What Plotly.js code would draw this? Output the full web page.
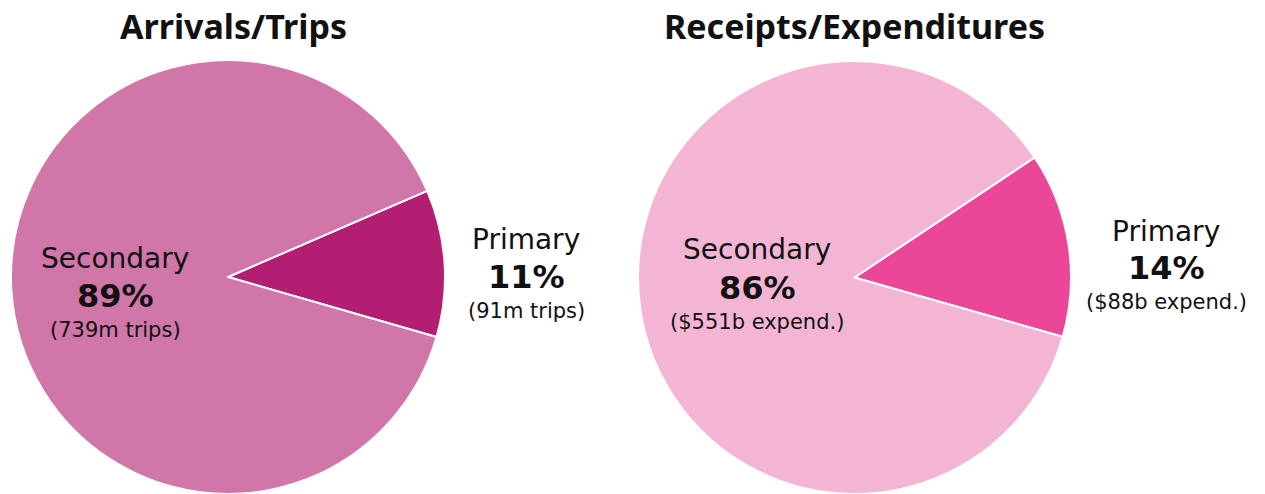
<!DOCTYPE html>
<html>
<head>
<meta charset="utf-8">
<script src="https://cdn.plot.ly/plotly-3.0.1.min.js"></script>
<style>html,body{margin:0;padding:0;background:#fff;}#chart{width:1265px;height:494px;}</style>
</head>
<body>
<div id="chart"></div>
<script>
const categories = ["Primary", "Secondary"];
const tripsValues = [91, 739];
const tripsUnits = ["91m trips", "739m trips"];
const expendValues = [88, 551];
const expendUnits = ["$88b expend.", "$551b expend."];
const titles = ["Arrivals/Trips", "Receipts/Expenditures"];
const tripsColors = ["#B11E72", "#D076A9"];
const expendColors = ["#EC4699", "#F4B5D5"];

const W = 1265, H = 494;
const FONT = "'DejaVu Sans', sans-serif";
const TFONT = "'Noto Sans', 'DejaVu Sans', sans-serif";

function pct(vals, i) {
  const s = vals.reduce((a, b) => a + b, 0);
  return Math.round(vals[i] / s * 100) + "%";
}

const traces = [
  {
    type: "pie", values: tripsValues, labels: categories, sort: false,
    direction: "clockwise", rotation: 66.6,
    marker: {colors: tripsColors, line: {color: "#ffffff", width: 2}},
    textinfo: "none", hoverinfo: "label+percent", showlegend: false,
    domain: {x: [10 / W, 446 / W], y: [0, 1 - 60 / H]}
  },
  {
    type: "pie", values: expendValues, labels: categories, sort: false,
    direction: "clockwise", rotation: 56.3,
    marker: {colors: expendColors, line: {color: "#ffffff", width: 2}},
    textinfo: "none", hoverinfo: "label+percent", showlegend: false,
    domain: {x: [636 / W, 1073 / W], y: [0, 1 - 61 / H]}
  }
];

function txt(px, py, text, size) {
  return {
    xref: "paper", yref: "paper", x: px / W, y: 1 - py / H,
    xanchor: "center", yanchor: "middle", showarrow: false,
    text: text, font: {family: FONT, size: size, color: "#111111"}
  };
}
function labelAnns(px, ys, name, vals, units, i) {
  return [
    txt(px, ys[0], name, 28),
    txt(px, ys[1], "<b>" + pct(vals, i) + "</b>", 32),
    txt(px, ys[2], "(" + units[i] + ")", 21)
  ];
}

const annotations = [
  {xref: "paper", yref: "paper", x: 233 / W, y: 1 - 26 / H, xanchor: "center", yanchor: "middle",
   showarrow: false, text: "<b>" + titles[0] + "</b>", font: {family: TFONT, size: 34, color: "#111"}},
  {xref: "paper", yref: "paper", x: 854 / W, y: 1 - 26 / H, xanchor: "center", yanchor: "middle",
   showarrow: false, text: "<b>" + titles[1] + "</b>", font: {family: TFONT, size: 34, color: "#111"}}
].concat(
  labelAnns(115, [258, 296, 330], categories[1], tripsValues, tripsUnits, 1),
  labelAnns(526, [240, 277, 311], categories[0], tripsValues, tripsUnits, 0),
  labelAnns(757, [249, 288, 322], categories[1], expendValues, expendUnits, 1),
  labelAnns(1166, [231, 268, 302], categories[0], expendValues, expendUnits, 0)
);

Plotly.newPlot("chart", traces, {
  width: W, height: H,
  margin: {l: 0, r: 0, t: 0, b: 0},
  paper_bgcolor: "#ffffff",
  annotations: annotations
}, {displayModeBar: false, staticPlot: true});
</script>
</body>
</html>
